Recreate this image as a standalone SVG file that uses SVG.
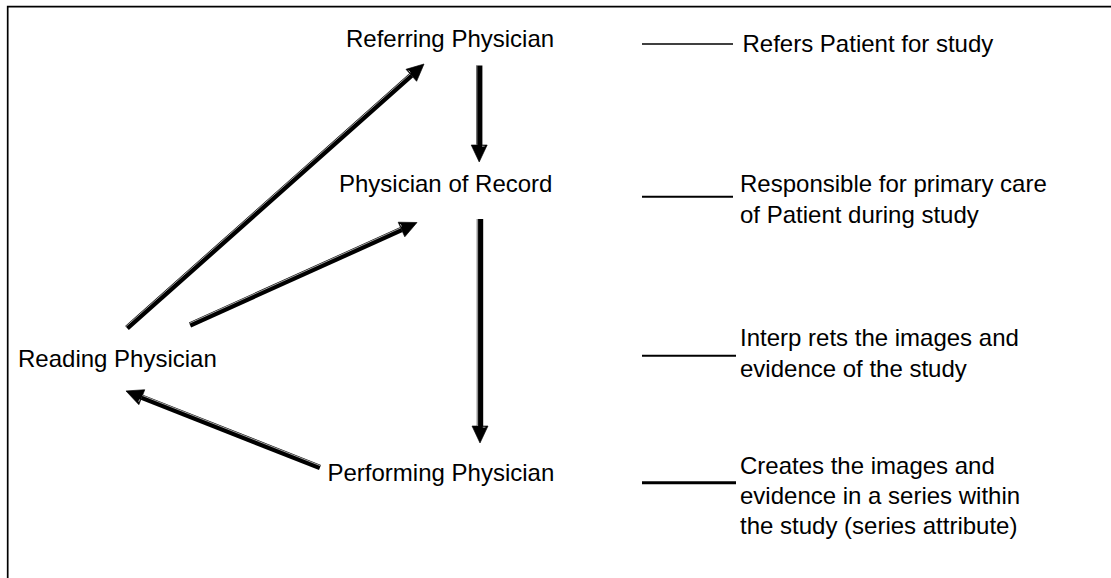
<svg xmlns="http://www.w3.org/2000/svg" width="1111" height="578" viewBox="0 0 1111 578">
<style>
.lbl{font-family:"Liberation Sans",Arial,sans-serif;font-size:24px;fill:#000}
.desc{font-family:"Liberation Sans",Arial,sans-serif;font-size:24px;fill:#000}
.shaft{stroke:#000;fill:none;stroke-linecap:butt}
.hl{stroke:#e8e8e8;stroke-width:0.7;fill:none}
.key{stroke:#000;fill:none}
</style>
<defs>
<marker id="head" markerUnits="userSpaceOnUse" markerWidth="18" markerHeight="17" refX="0" refY="8" orient="auto" overflow="visible">
<path d="M0,0 L17,8 L0,16 Z" fill="#000" stroke="#000" stroke-width="0.6"/>
<path d="M1.2,2.6 L1.2,5.2" stroke="#e8e8e8" stroke-width="0.7"/>
</marker>
</defs>
<rect width="1111" height="578" fill="#fff"/>
<path d="M7.7,578 V6.7 H1111" fill="none" stroke="#000" stroke-width="1.7"/>

<g id="connectors">
<line class="shaft" x1="127" y1="328" x2="411.3" y2="75.3" stroke-width="5.5" marker-end="url(#head)"/>
<line class="hl" x1="125.8" y1="326.65" x2="410.1" y2="73.95"/>
<line class="shaft" x1="479.2" y1="65.5" x2="479.2" y2="145" stroke-width="6.4" marker-end="url(#head)"/>
<line class="hl" x1="476.8" y1="65.5" x2="476.8" y2="145"/>
<line class="shaft" x1="190" y1="325" x2="401.5" y2="229.5" stroke-width="5.5" marker-end="url(#head)"/>
<line class="hl" x1="189.26" y1="323.36" x2="400.76" y2="227.86"/>
<line class="shaft" x1="480" y1="219" x2="480" y2="426" stroke-width="6.4" marker-end="url(#head)"/>
<line class="hl" x1="477.6" y1="219" x2="477.6" y2="426"/>
<line class="shaft" x1="320" y1="467.5" x2="141.8" y2="397.2" stroke-width="5.5" marker-end="url(#head)"/>
<line class="hl" x1="320.66" y1="465.83" x2="142.46" y2="395.53"/>
</g>

<g id="node-referring"><text class="lbl" x="346" y="46.5">Referring Physician</text></g>
<g id="node-record"><text class="lbl" x="339" y="191.5">Physician of Record</text></g>
<g id="node-reading"><text class="lbl" x="18" y="367">Reading Physician</text></g>
<g id="node-performing"><text class="lbl" x="327.5" y="480.5">Performing Physician</text></g>

<g id="legend-referring">
<line class="key" x1="642" y1="44" x2="733" y2="44" stroke-width="1.4"/>
<text class="desc" x="742.5" y="52">Refers Patient for study</text>
</g>
<g id="legend-record">
<line class="key" x1="642" y1="196.7" x2="733" y2="196.7" stroke-width="2"/>
<text class="desc" x="740" y="191.5">Responsible for primary care</text>
<text class="desc" x="740" y="223">of Patient during study</text>
</g>
<g id="legend-reading">
<line class="key" x1="642" y1="355.7" x2="736" y2="355.7" stroke-width="2"/>
<text class="desc" x="740" y="346">Interp rets the images and</text>
<text class="desc" x="740" y="377">evidence of the study</text>
</g>
<g id="legend-performing">
<line class="key" x1="642" y1="482.7" x2="736" y2="482.7" stroke-width="3"/>
<text class="desc" x="740" y="474">Creates the images and</text>
<text class="desc" x="740" y="504">evidence in a series within</text>
<text class="desc" x="740" y="533.5">the study (series attribute)</text>
</g>
</svg>
